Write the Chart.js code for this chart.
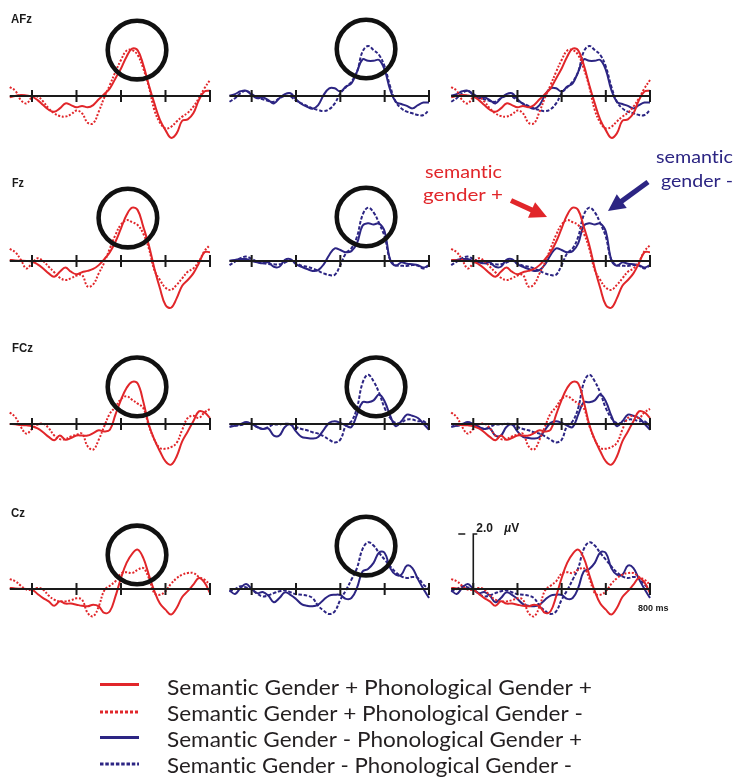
<!DOCTYPE html>
<html lang="en">
<head>
<meta charset="UTF-8">
<title>ERP waveforms by electrode</title>
<script src="https://cdn.jsdelivr.net/npm/chart.js"></script>
<style>
    body { margin: 0; background: #fff; }
    #fig { position: relative; width: 736px; height: 778px; overflow: hidden; }
    #fig canvas { position: absolute; }
</style>
</head>
<body>
<div id="fig"><canvas id="overlay" width="736" height="778" style="left:0;top:0"></canvas></div>
<script>
    // time points (ms), every 25 ms from -100 to 800
    const times = [-100, -75, -50, -25, 0, 25, 50, 75, 100, 125, 150, 175, 200, 225, 250, 275, 300, 325, 350,
        375, 400, 425, 450, 475, 500, 525, 550, 575, 600, 625, 650, 675, 700, 725, 750, 775, 800];
    const tickTimes = [0, 200, 400, 600, 800];
    const electrodes = ["AFz", "Fz", "FCz", "Cz"];
    const conditions = [
        "Semantic Gender + Phonological Gender +",
        "Semantic Gender + Phonological Gender -",
        "Semantic Gender - Phonological Gender +",
        "Semantic Gender - Phonological Gender -"
    ];

    // amplitudes in µV (negative plotted up). PP = sem+ phon+, PM = sem+ phon-, MP = sem- phon+, MM = sem- phon-
    const afzPP = [0.05, 0, -0.04, -0.02, 0.02, 0.15, 0.33, 0.5, 0.57, 0.45, 0.27, 0.33, 0.41, 0.36, 0.41, 0.33, 0.12, -0.07, -0.28, -0.64, -1.0, -1.43, -1.72, -1.66, -1.13, -0.4, 0.27, 0.87, 1.24, 1.52, 1.36, 0.9, 0.85, 0.63, 0.15, -0.16, -0.19];
    const afzPM = [-0.32, -0.19, 0.15, 0.27, 0.05, 0.02, 0.2, 0.45, 0.63, 0.73, 0.75, 0.67, 0.53, 0.63, 0.97, 0.99, 0.57, 0.05, -0.4, -0.88, -1.31, -1.65, -1.67, -1.49, -1.0, -0.34, 0.51, 0.97, 1.18, 1.12, 0.93, 0.75, 0.61, 0.39, 0.08, -0.28, -0.58];
    const afzMP = [-0.01, -0.07, -0.17, -0.19, -0.04, 0.08, 0.05, 0.15, 0.27, 0.08, -0.07, -0.1, 0.12, 0.29, 0.39, 0.46, 0.33, -0.04, -0.28, -0.28, -0.16, -0.34, -0.46, -0.88, -1.33, -1.28, -1.28, -1.31, -0.95, -0.22, 0.21, 0.29, 0.36, 0.45, 0.33, 0.24, 0.24];
    const afzMM = [0.21, 0.08, -0.1, -0.19, -0.07, 0.05, 0.12, 0.18, 0.21, 0.08, 0, 0.02, 0.17, 0.27, 0.36, 0.45, 0.51, 0.55, 0.48, 0.27, -0.1, -0.32, -0.52, -0.88, -1.61, -1.82, -1.67, -1.49, -1.07, -0.34, 0.21, 0.45, 0.57, 0.63, 0.69, 0.69, 0.51];

    const fzPP = [-0.04, -0.02, -0.01, 0, 0.02, 0.12, 0.27, 0.45, 0.57, 0.39, 0.24, 0.39, 0.48, 0.41, 0.36, 0.29, 0.15, -0.07, -0.32, -0.7, -1.19, -1.67, -1.94, -1.85, -1.25, -0.58, 0.27, 0.99, 1.6, 1.7, 1.36, 0.9, 0.69, 0.45, 0.08, -0.32, -0.32];
    const fzPM = [-0.44, -0.32, -0.04, 0.27, 0.08, -0.1, 0, 0.21, 0.41, 0.61, 0.69, 0.63, 0.53, 0.51, 0.93, 0.85, 0.45, 0.05, -0.46, -0.95, -1.33, -1.49, -1.41, -1.31, -1.0, -0.46, 0.33, 0.69, 0.97, 1.05, 0.87, 0.63, 0.39, 0.27, 0.02, -0.36, -0.58];
    const fzMP = [-0.01, -0.04, -0.07, -0.07, 0, 0.05, 0.08, 0.05, 0.21, 0.21, -0.04, -0.07, 0.12, 0.21, 0.29, 0.36, 0.33, 0.12, -0.22, -0.46, -0.4, -0.32, -0.36, -0.64, -1.28, -1.37, -1.33, -1.36, -1.07, -0.04, 0.17, 0.05, 0.1, 0.12, 0.15, 0.24, 0.15];
    const fzMM = [0.15, 0.02, -0.1, -0.16, -0.07, 0.02, 0.08, 0.11, 0.12, 0.12, 0.06, -0.01, 0.08, 0.17, 0.21, 0.27, 0.36, 0.45, 0.51, 0.5, 0.15, -0.28, -0.46, -0.88, -1.67, -1.94, -1.77, -1.37, -0.88, -0.04, 0.15, 0.17, 0.18, 0.15, 0.17, 0.27, 0.15];

    const fczPP = [0, 0.01, 0.04, 0.05, 0.08, 0.16, 0.3, 0.47, 0.59, 0.42, 0.57, 0.51, 0.42, 0.42, 0.42, 0.33, 0.23, 0.27, 0.21, -0.34, -0.88, -1.31, -1.53, -1.47, -0.82, 0.02, 0.57, 0.99, 1.36, 1.48, 1.18, 0.63, 0.27, -0.1, -0.46, -0.42, -0.22];
    const fczPM = [-0.42, -0.25, 0.11, 0.35, 0.18, 0.02, -0.01, 0.15, 0.42, 0.55, 0.55, 0.45, 0.39, 0.35, 0.81, 0.93, 0.57, 0.08, -0.38, -0.62, -0.91, -1.01, -0.88, -0.74, -0.58, 0.06, 0.57, 0.87, 0.9, 0.84, 0.69, 0.21, -0.22, -0.3, -0.22, -0.42, -0.55];
    const fczMP = [0.11, 0.06, 0, -0.07, 0, 0.11, 0.18, 0.16, 0.42, 0.42, 0.11, 0.02, 0.27, 0.47, 0.51, 0.53, 0.47, 0.21, -0.04, -0.1, -0.04, 0.06, 0.11, -0.34, -0.79, -0.79, -0.86, -1.07, -0.82, -0.3, 0.08, -0.1, -0.34, -0.3, -0.22, -0.01, 0.21];
    const fczMM = [0, 0.06, 0.04, -0.01, -0.01, 0.11, 0.18, 0.11, 0.02, 0.02, -0.01, 0.01, 0.11, 0.18, 0.23, 0.3, 0.35, 0.45, 0.57, 0.67, 0.57, 0.06, -0.1, -0.58, -1.49, -1.79, -1.55, -1.13, -0.58, -0.22, -0.04, -0.06, -0.16, -0.16, -0.1, -0.1, 0.08];

    const czPP = [-0.04, -0.02, -0.01, 0, 0.02, 0.18, 0.33, 0.45, 0.61, 0.45, 0.53, 0.53, 0.57, 0.61, 0.63, 0.57, 0.63, 0.87, 0.81, 0.27, -0.4, -0.95, -1.28, -1.43, -1.13, -0.52, 0.08, 0.53, 0.75, 0.93, 0.69, 0.29, 0.08, -0.16, -0.4, -0.24, 0.15];
    const czPM = [-0.36, -0.28, -0.12, 0.02, 0.02, -0.04, 0.02, 0.24, 0.39, 0.45, 0.45, 0.41, 0.34, 0.39, 0.87, 0.99, 0.63, 0.05, -0.12, -0.28, -0.56, -0.61, -0.58, -0.7, -0.76, -0.4, 0.15, 0.21, 0.08, -0.19, -0.39, -0.52, -0.58, -0.58, -0.44, -0.34, -0.16];
    const czMP = [0.05, 0.18, -0.04, -0.18, 0, 0.15, 0.11, 0.24, 0.48, 0.33, 0.12, 0.21, 0.36, 0.55, 0.61, 0.63, 0.57, 0.39, 0.24, 0.21, 0.22, 0.36, 0.33, -0.04, -0.64, -0.73, -0.95, -1.33, -1.31, -0.76, -0.52, -0.52, -0.85, -0.76, -0.36, 0, 0.33];
    const czMM = [0.08, 0, -0.1, -0.06, 0.02, 0.17, 0.27, 0.23, 0.15, 0.08, 0.05, 0.12, 0.19, 0.21, 0.24, 0.33, 0.61, 0.79, 0.91, 0.81, 0.39, 0.05, -0.34, -0.76, -1.45, -1.7, -1.58, -1.31, -1.07, -0.82, -0.61, -0.46, -0.4, -0.44, -0.4, -0.16, 0];

    // highlighted components: circle centre per electrode (ms, µV), sem+ panel then sem- panel
    const circleTimes = [[472, 516], [431, 516], [472, 561], [472, 516]];
    const circleValues = [[-1.67, -1.71], [-1.56, -1.6], [-1.35, -1.35], [-1.24, -1.56]];

    const waves = [
        [afzPP, afzPM, afzMP, afzMM],
        [fzPP, fzPM, fzMP, fzMM],
        [fczPP, fczPM, fczMP, fczMM],
        [czPP, czPM, czMP, czMM]
    ];

    const RED = "#e1262a";
    const BLUE = "#2c2583";
    const INK = "#1a1a1a";
    const lineStyles = [
        { borderColor: RED, borderWidth: 2 },
        { borderColor: RED, borderWidth: 2, borderDash: [2, 1.7] },
        { borderColor: BLUE, borderWidth: 2 },
        { borderColor: BLUE, borderWidth: 2, borderDash: [3.5, 1.8] }
    ];

    // layout of the panel grid (pixels)
    const colBounds = [[9.75, 210], [229.5, 429], [451.2, 650]];
    const baselines = [96, 261, 424, 589];
    const Y_RANGE = 3.2; // µV each side, 27.5 px per µV

    const erpAxes = {
        id: "erpAxes",
        afterDatasetsDraw(chart, args, opts) {
            const { ctx, scales: { x, y } } = chart;
            const y0 = y.getPixelForValue(0);
            ctx.save();
            ctx.strokeStyle = INK;
            ctx.lineWidth = 2;
            ctx.beginPath();
            ctx.moveTo(x.getPixelForValue(-100), y0);
            ctx.lineTo(x.getPixelForValue(800), y0);
            tickTimes.forEach(t => {
                const px = x.getPixelForValue(t);
                ctx.moveTo(px, y0 - 6);
                ctx.lineTo(px, y0 + 6);
            });
            ctx.stroke();

            if (opts.circle) {
                ctx.strokeStyle = "#111";
                ctx.lineWidth = 4.6;
                ctx.beginPath();
                ctx.arc(x.getPixelForValue(opts.circle[0]), y.getPixelForValue(opts.circle[1]), 29.3, 0, Math.PI * 2);
                ctx.stroke();
            }

            if (opts.scaleBar) {
                const bx = x.getPixelForValue(0);
                const by = y.getPixelForValue(-2);
                ctx.lineWidth = 1.6;
                ctx.beginPath();
                ctx.moveTo(bx, y0);
                ctx.lineTo(bx, by);
                ctx.lineTo(bx + 4, by);
                ctx.moveTo(bx - 15, by);
                ctx.lineTo(bx - 8, by);
                ctx.stroke();
                ctx.fillStyle = INK;
                ctx.font = "bold 12px 'Liberation Sans', Arial, sans-serif";
                ctx.fillText("2.0", bx + 3, by - 2);
                ctx.font = "italic bold 12px 'Liberation Sans', Arial, sans-serif";
                ctx.fillText("µ", bx + 31, by - 2);
                ctx.font = "bold 12px 'Liberation Sans', Arial, sans-serif";
                ctx.fillText("V", bx + 38, by - 2);
                ctx.font = "bold 9px 'Liberation Sans', Arial, sans-serif";
                ctx.fillText("800 ms", x.getPixelForValue(800) - 12, y0 + 22);
            }
            ctx.restore();
        }
    };

    const fig = document.getElementById("fig");

    function addPanel(r, c) {
        const [aL, aR] = colBounds[c];
        const left = Math.floor(aL) - 8;
        const right = Math.ceil(aR) + 34;
        const top = baselines[r] - 88 - 4;
        const cv = document.createElement("canvas");
        cv.width = right - left;
        cv.height = 184;
        cv.style.left = left + "px";
        cv.style.top = top + "px";
        fig.appendChild(cv);

        const which = c === 0 ? [0, 1] : c === 1 ? [2, 3] : [0, 1, 2, 3];
        const datasets = which.map(k => Object.assign({
            label: conditions[k],
            data: times.map((t, i) => ({ x: t, y: waves[r][k][i] })),
            pointRadius: 0,
            tension: 0.4,
            fill: false,
            clip: false
        }, lineStyles[k]));

        new Chart(cv, {
            type: "line",
            data: { datasets },
            options: {
                responsive: false,
                animation: false,
                devicePixelRatio: 1,
                layout: { padding: { left: aL - left, right: right - aR, top: 4, bottom: 4 } },
                scales: {
                    x: { type: "linear", min: -100, max: 800, display: false },
                    y: { min: -Y_RANGE, max: Y_RANGE, reverse: true, display: false }
                },
                plugins: {
                    legend: { display: false },
                    tooltip: { enabled: false },
                    erpAxes: {
                        circle: c < 2 ? [circleTimes[r][c], circleValues[r][c]] : null,
                        scaleBar: r === 3 && c === 2
                    }
                }
            },
            plugins: [erpAxes]
        });
    }

    for (let r = 0; r < 4; r++) {
        for (let c = 0; c < 3; c++) addPanel(r, c);
    }

    // labels, annotations and legend
    const ctx = document.getElementById("overlay").getContext("2d");
    ctx.letterSpacing = "0.01px"; // keeps "ti" from turning into a ligature
    ctx.textRendering = "optimizeSpeed";

    function fitText(str, x, yb, w, font, color) {
        ctx.font = font;
        const m = ctx.measureText(str).width;
        ctx.save();
        ctx.translate(x, yb);
        ctx.scale(w / m, 1);
        ctx.fillStyle = color;
        ctx.fillText(str, 0, 0);
        ctx.restore();
    }

    function arrow(x1, y1, x2, y2, color) {
        const a = Math.atan2(y2 - y1, x2 - x1);
        const len = Math.hypot(x2 - x1, y2 - y1);
        ctx.save();
        ctx.translate(x1, y1);
        ctx.rotate(a);
        ctx.fillStyle = color;
        ctx.fillRect(0, -2.6, len - 14, 5.2);
        ctx.beginPath();
        ctx.moveTo(len, 0);
        ctx.lineTo(len - 17, -8.5);
        ctx.lineTo(len - 17, 8.5);
        ctx.closePath();
        ctx.fill();
        ctx.restore();
    }

    const labelFont = "bold 12px 'Liberation Sans', Arial, sans-serif";
    const labelPos = [[11, 22.7, 21], [12, 186.7, 12], [12, 351.7, 21], [11, 516.7, 14]];
    electrodes.forEach((e, i) => fitText(e, labelPos[i][0], labelPos[i][1], labelPos[i][2], labelFont, INK));

    const noteFont = "17px Lato, 'Open Sans', sans-serif";
    fitText("semantic", 425, 178, 77, noteFont, RED);
    fitText("gender +", 423, 201, 80, noteFont, RED);
    fitText("semantic", 656, 163, 77, noteFont, BLUE);
    fitText("gender -", 661, 187, 72, noteFont, BLUE);
    arrow(511, 200.5, 547, 217, RED);
    arrow(648, 182, 608, 211, BLUE);

    const legY = [684.5, 712, 737.5, 764];
    const legBase = [694.5, 720.5, 746.5, 772.5];
    const legW = [425, 416, 415, 405];
    const legFont = "21px Lato, 'Open Sans', sans-serif";
    conditions.forEach((name, k) => {
        ctx.save();
        ctx.strokeStyle = lineStyles[k].borderColor;
        ctx.lineWidth = 3;
        ctx.setLineDash(k === 1 ? [3, 2] : k === 3 ? [3.5, 1.8] : []);
        ctx.beginPath();
        ctx.moveTo(100, legY[k]);
        ctx.lineTo(139, legY[k]);
        ctx.stroke();
        ctx.restore();
        fitText(name, 167, legBase[k], legW[k], legFont, "#231f20");
    });
</script>
</body>
</html>
